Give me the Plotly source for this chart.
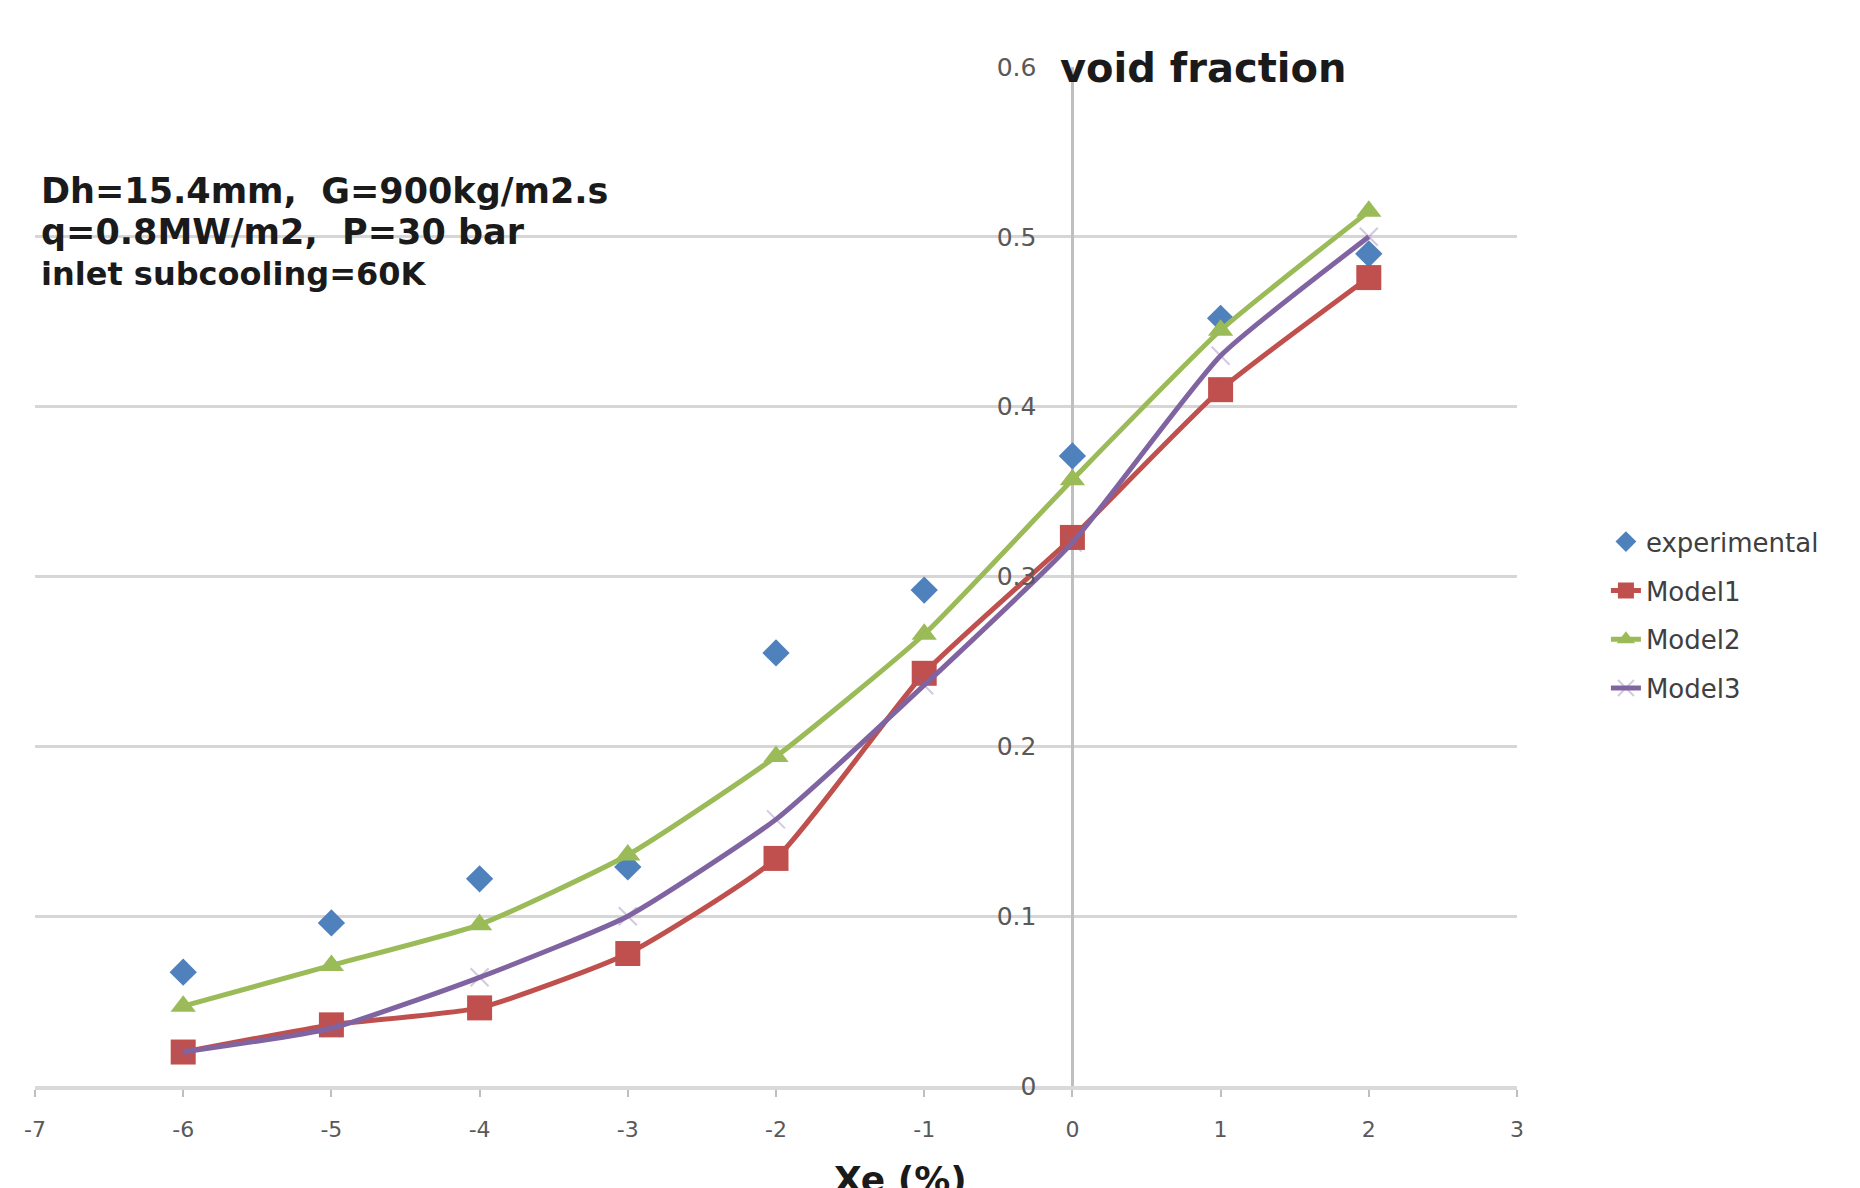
import plotly.graph_objects as go

xe = [-6, -5, -4, -3, -2, -1, 0, 1, 2]
experimental = [0.067, 0.096, 0.122, 0.129, 0.255, 0.292, 0.371, 0.452, 0.490]
model1 = [0.020, 0.036, 0.046, 0.078, 0.134, 0.243, 0.323, 0.410, 0.476]
model2 = [0.047, 0.071, 0.095, 0.136, 0.194, 0.266, 0.357, 0.445, 0.515]
model3 = [0.020, 0.034, 0.064, 0.100, 0.157, 0.236, 0.320, 0.430, 0.500]

x_ticks = [-7, -6, -5, -4, -3, -2, -1, 0, 1, 2, 3]
x_tick_labels = ["-7", "-6", "-5", "-4", "-3", "-2", "-1", "0", "1", "2", "3"]
y_ticks = [0, 0.1, 0.2, 0.3, 0.4, 0.5, 0.6]
y_tick_labels = ["0", "0.1", "0.2", "0.3", "0.4", "0.5", "0.6"]

FONT = "DejaVu Sans"
fig = go.Figure()

fig.add_trace(go.Scatter(
    x=xe, y=experimental, name="experimental", mode="markers",
    marker=dict(symbol="diamond", size=21, color="#4F81BD"),
    legendgroup="a"))
fig.add_trace(go.Scatter(
    x=xe, y=model1, name="Model1", mode="lines+markers",
    line=dict(color="#C0504D", width=5, shape="spline", smoothing=0.5),
    marker=dict(symbol="square", size=25, color="#C0504D"),
    legendgroup="b"))
fig.add_trace(go.Scatter(
    x=xe, y=model2, name="Model2", mode="lines+markers",
    line=dict(color="#9BBB59", width=5, shape="spline", smoothing=0.5),
    marker=dict(symbol="triangle-up", size=22, color="#9BBB59"),
    legendgroup="c"))
fig.add_trace(go.Scatter(
    x=xe, y=model3, name="Model3", mode="lines+markers",
    line=dict(color="#8064A2", width=5, shape="spline", smoothing=0.5),
    marker=dict(symbol="x-thin", size=18, color="rgba(128,100,162,0.35)",
                line=dict(width=2, color="rgba(128,100,162,0.35)")),
    legendgroup="d"))

fig.update_layout(
    width=1860, height=1188,
    margin=dict(l=35, r=343, t=67, b=102),
    paper_bgcolor="white", plot_bgcolor="white",
    font=dict(family=FONT, color="#404040"),
    legend=dict(x=1.06, xanchor="left", y=0.462, yanchor="middle",
                font=dict(family=FONT, size=26, color="#404040"),
                tracegroupgap=12, bgcolor="rgba(0,0,0,0)"),
    xaxis=dict(range=[-7, 3], tickvals=x_ticks, ticktext=x_tick_labels,
               showgrid=False,
               zeroline=True, zerolinecolor="#bfbfbf", zerolinewidth=3,
               showline=True, linecolor="#d9d9d9", linewidth=4,
               ticks="outside", ticklen=7, tickwidth=2, tickcolor="#bfbfbf",
               tickfont=dict(family=FONT, size=22, color="#595959"),
               ticklabelstandoff=14),
    yaxis=dict(range=[0, 0.6], tickvals=y_ticks, ticktext=y_tick_labels,
               showgrid=True,
               gridcolor="#d6d6d6", gridwidth=3, zeroline=False,
               anchor="free", position=0.7, showline=False, ticks="",
               tickfont=dict(family=FONT, size=25, color="#595959"),
               ticklabelstandoff=36),
)

ann_font = dict(family=FONT, color="#1a1a1a")
fig.add_annotation(text="<b>void fraction</b>", xref="paper", yref="paper",
                   x=0.690, y=0.999, xanchor="left", yanchor="middle",
                   showarrow=False, font=dict(size=40, **ann_font))
fig.add_annotation(text="<b>Dh=15.4mm,  G=900kg/m2.s</b>", xref="paper", yref="paper",
                   x=0.0027, y=0.878, xanchor="left", yanchor="middle",
                   showarrow=False, font=dict(size=35, **ann_font))
fig.add_annotation(text="<b>q=0.8MW/m2,  P=30 bar</b>", xref="paper", yref="paper",
                   x=0.0027, y=0.838, xanchor="left", yanchor="middle",
                   showarrow=False, font=dict(size=35, **ann_font))
fig.add_annotation(text="<b>inlet subcooling=60K</b>", xref="paper", yref="paper",
                   x=0.0027, y=0.797, xanchor="left", yanchor="middle",
                   showarrow=False, font=dict(size=32, **ann_font))
fig.add_annotation(text="<b>Xe (%)</b>", xref="paper", yref="paper",
                   x=0.584, y=-0.092, xanchor="center", yanchor="middle",
                   showarrow=False, font=dict(size=36, **ann_font))

fig.write_html("out.html")
